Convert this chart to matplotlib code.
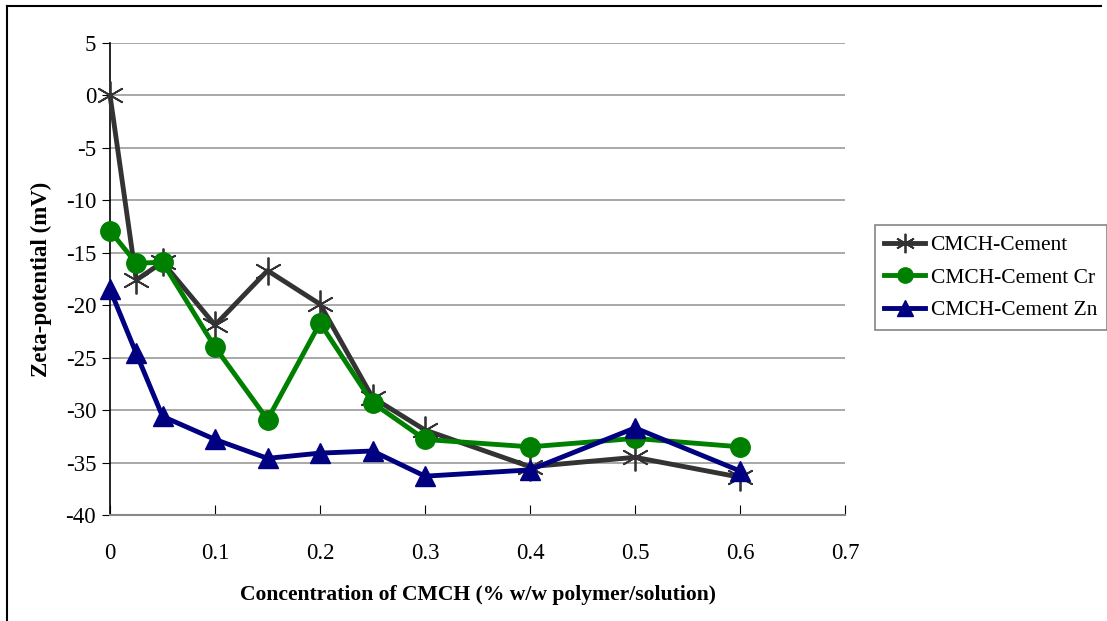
import matplotlib.pyplot as plt
from matplotlib.lines import Line2D

plt.rcParams['font.family'] = ['Liberation Serif', 'DejaVu Serif']
plt.rcParams['axes.unicode_minus'] = False

conc = [0, 0.025, 0.05, 0.1, 0.15, 0.2, 0.25, 0.3, 0.4, 0.5, 0.6]
cement = [0, -17.6, -15.9, -21.9, -16.7, -19.9, -28.8, -31.9, -35.4, -34.5, -36.4]
cement_cr = [-12.9, -16.0, -15.9, -24.0, -30.9, -21.7, -29.3, -32.8, -33.5, -32.7, -33.5]
cement_zn = [-18.5, -24.6, -30.6, -32.8, -34.6, -34.1, -33.9, -36.3, -35.7, -31.7, -35.8]

ast = (6, 2, 0)

fig = plt.figure(figsize=(11.07, 6.21), dpi=100)
ax = fig.add_axes([0.0994, 0.1707, 0.6639, 0.7601])

ax.plot(conc, cement, color='#333333', lw=3.5, marker=ast, ms=20, mew=1.3,
        mec='#333333', label='CMCH-Cement', zorder=3, clip_on=False)
ax.plot(conc, cement_cr, color='#008000', lw=3.5, marker='o', ms=14,
        label='CMCH-Cement Cr', zorder=4, clip_on=False)
ax.plot(conc, cement_zn, color='#000080', lw=3.5, marker='^', ms=14,
        label='CMCH-Cement Zn', zorder=5, clip_on=False)

ax.set_xlim(0, 0.7)
ax.set_ylim(-40, 5)
ax.set_xticks([0, 0.1, 0.2, 0.3, 0.4, 0.5, 0.6, 0.7])
ax.set_xticklabels(['0', '0.1', '0.2', '0.3', '0.4', '0.5', '0.6', '0.7'])
ax.set_yticks(range(-40, 6, 5))
ax.yaxis.grid(True, color='#999999', lw=1.2)
ax.set_axisbelow(True)
for s in ['top', 'right']:
    ax.spines[s].set_visible(False)
ax.spines['left'].set_linewidth(1.2)
ax.spines['bottom'].set_color('#888888')
ax.spines['bottom'].set_linewidth(1.5)
ax.tick_params(axis='x', direction='in', length=7, pad=20, labelsize=16.5, color='black')
ax.tick_params(axis='y', direction='out', length=6, pad=4, labelsize=16.5)
ax.set_xlabel('Concentration of CMCH (% w/w polymer/solution)', fontsize=15.6,
              fontweight='bold', labelpad=15)
ax.set_ylabel('Zeta-potential (mV)', fontsize=16.5, fontweight='bold', labelpad=10)

h = [Line2D([], [], color='#333333', lw=3.5, marker=ast, ms=14, mew=1.3),
     Line2D([], [], color='#008000', lw=3.5, marker='o', ms=11),
     Line2D([], [], color='#000080', lw=3.5, marker='^', ms=11)]
leg = fig.legend(h, ['CMCH-Cement', 'CMCH-Cement Cr', 'CMCH-Cement Zn'],
                 loc='upper left', bbox_to_anchor=(0.790, 0.637), fontsize=15.5,
                 frameon=True, fancybox=False, edgecolor='#666666',
                 handlelength=1.9, borderpad=0.45, labelspacing=0.58,
                 handletextpad=0.25, borderaxespad=0)
leg.get_frame().set_linewidth(1.2)

# outer border (top and left)
fig.add_artist(Line2D([0.0065, 0.995], [0.99, 0.99], color='black', lw=1.5))
fig.add_artist(Line2D([0.0065, 0.0065], [0.0, 0.99], color='black', lw=1.5))

fig.savefig('out.png', dpi=100)
